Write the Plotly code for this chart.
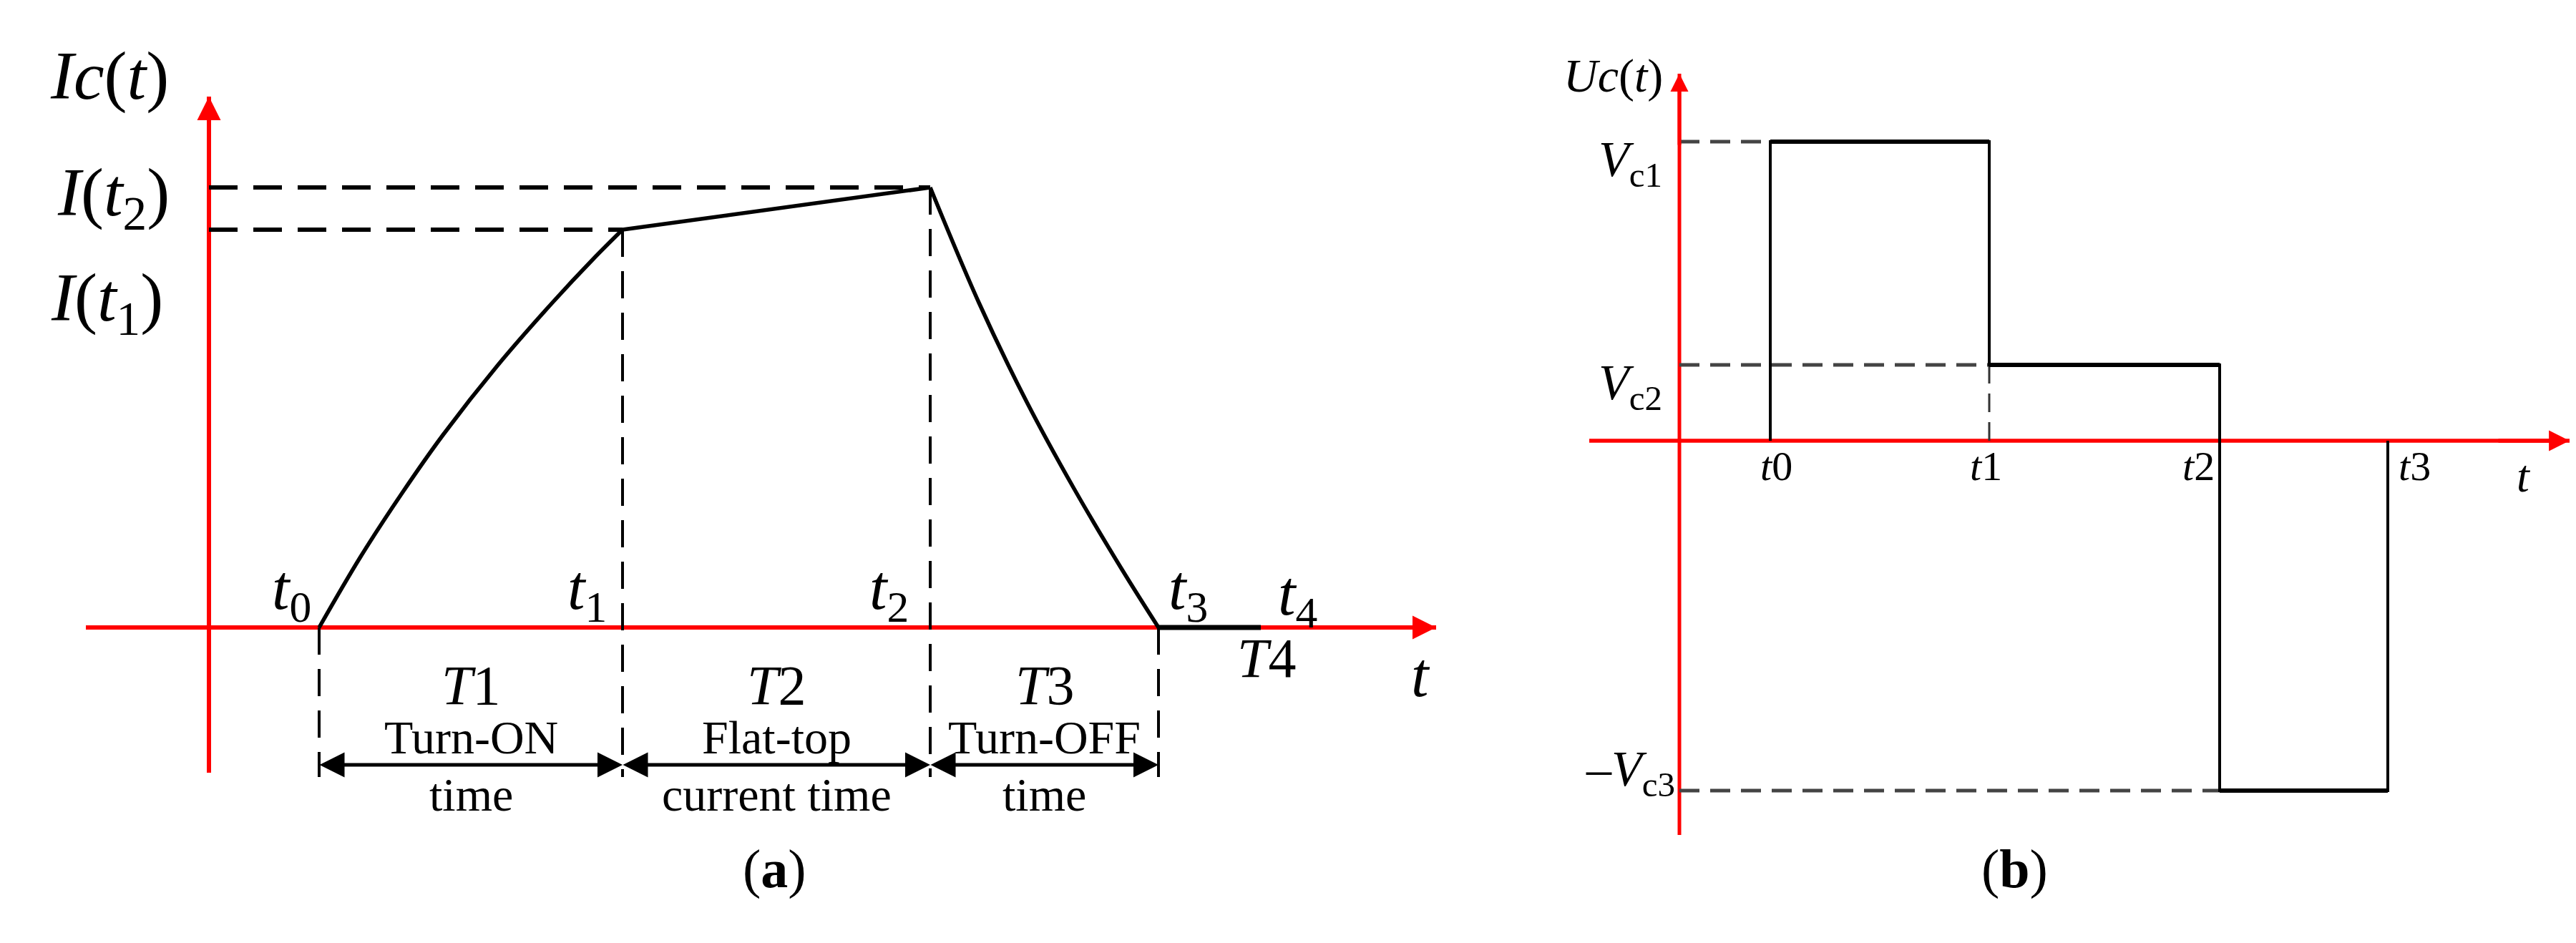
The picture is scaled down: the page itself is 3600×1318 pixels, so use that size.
import plotly.graph_objects as go

# ---------------- data ----------------
# Panel (a): coil current waveform (arbitrary units)
a_times = [1.54, 5.78, 10.08, 13.27, 14.70]          # t0 .. t4
a_time_names = ["0", "1", "2", "3", "4"]
I_levels = [5.56, 6.15]                              # I(t1), I(t2)
rise_t = [1.54, 2.12, 2.70, 3.27, 4.04, 4.80, 5.38, 5.78]
rise_I = [0.00, 0.99, 1.88, 2.69, 3.67, 4.54, 5.16, 5.56]
fall_t = [10.08, 10.76, 11.43, 12.09, 12.76, 13.27]
fall_I = [6.15, 4.54, 3.15, 1.94, 0.81, 0.00]
interval_names = ["1", "2", "3"]
interval_desc = [["Turn-ON", "time"], ["Flat-top", "current time"], ["Turn-OFF", "time"]]
a_x_extent = [-1.72, 17.15]
a_y_extent = [-2.03, 7.42]

# Panel (b): coil voltage waveform (arbitrary units)
b_times = [1.27, 4.33, 7.55, 9.90]                   # t0 .. t3
b_time_names = ["0", "1", "2", "3"]
V_levels = [4.18, 1.06, -4.89]                       # Vc1, Vc2, -Vc3
V_names = ["<i>V</i><sub>c1</sub>", "<i>V</i><sub>c2</sub>", "\u2013<i>V</i><sub>c3</sub>"]
b_x_extent = [-1.26, 12.44]
b_y_extent = [-5.51, 5.13]

# ---------------- figure ----------------
W, H = 3600, 1318
FONT = "Liberation Serif"
RED = "#ff0000"

fig = go.Figure()


def line(xs, ys, axis, width, dash="solid", color="black", shape="linear", smoothing=0.5):
    xa, ya = ("x", "y") if axis == "a" else ("x2", "y2")
    fig.add_trace(go.Scatter(x=xs, y=ys, xaxis=xa, yaxis=ya, mode="lines",
                             line=dict(color=color, width=width, dash=dash, shape=shape,
                                       smoothing=smoothing),
                             cliponaxis=False, hoverinfo="skip", showlegend=False))


t0, t1, t2, t3, t4 = a_times
I1, I2 = I_levels
bottom_a = -2.09
arrow_y = -1.92

# red axes (drawn first, under everything)
line(a_x_extent, [0, 0], "a", 6, color=RED)
line([0, 0], a_y_extent, "a", 6, color=RED)
line(b_x_extent, [0, 0], "b", 5.5, color=RED)
line([0, 0], b_y_extent, "b", 5, color=RED)

# dashed guides, panel a
line([0, t2], [I2, I2], "a", 6, "40px,22px")
line([0, t1], [I1, I1], "a", 6, "40px,22px")
line([t0, t0], [0, bottom_a], "a", 4, "38px,20px")
line([t1, t1], [I1, bottom_a], "a", 4, "38px,20px")
line([t2, t2], [I2, bottom_a], "a", 4, "38px,20px")
line([t3, t3], [0, bottom_a], "a", 4, "38px,20px")

# current waveform
line(rise_t, rise_I, "a", 5.5, shape="spline", smoothing=1.0)
line([t1, t2], [I1, I2], "a", 5.5)
line(fall_t, fall_I, "a", 5.5, shape="spline", smoothing=1.0)
line([t3, t4], [0, 0], "a", 7)

# panel b
bt0, bt1, bt2, bt3 = b_times
V1, V2, V3 = V_levels
line([0, bt0], [V1, V1], "b", 5, "28px,15px", color="#444444")
line([0, bt1], [V2, V2], "b", 5, "28px,15px", color="#444444")
line([0, bt2], [V3, V3], "b", 5, "28px,15px", color="#444444")
line([bt1, bt1], [V2, 0], "b", 3, "26px,14px", color="#333333")
line([bt0, bt0, bt1, bt1, bt2, bt2, bt3, bt3],
     [0, V1, V1, V2, V2, V3, V3, 0], "b", 4)
for xa_, xb_, v in [(bt0, bt1, V1), (bt1, bt2, V2), (bt2, bt3, V3)]:
    line([xa_, xb_], [v, v], "b", 6)

ann = []


def text(x, y, s, size, axis="a", xanchor="center", yanchor="middle", xshift=0):
    xr, yr = ("x", "y") if axis == "a" else ("x2", "y2")
    ann.append(dict(x=x, y=y, xref=xr, yref=yr, text=s, showarrow=False,
                    xanchor=xanchor, yanchor=yanchor, xshift=xshift,
                    font=dict(family=FONT, size=size, color="black")))


def arrow(x, y, ax, ay, axis, color, width, size, both=False):
    xr, yr = ("x", "y") if axis == "a" else ("x2", "y2")
    d = dict(x=x, y=y, ax=ax, ay=ay, xref=xr, yref=yr, axref=xr, ayref=yr,
             text="", showarrow=True, arrowhead=2, arrowsize=size, arrowwidth=width,
             arrowcolor=color, font=dict(size=1), borderpad=0, standoff=0, startstandoff=0)
    if both:
        d.update(arrowside="end+start", startarrowhead=2, startarrowsize=size)
    ann.append(d)


# axis arrowheads
arrow(a_x_extent[1], 0, a_x_extent[1] - 1.2, 0, "a", RED, 6, 1.1)
arrow(0, a_y_extent[1], 0, a_y_extent[1] - 1.0, "a", RED, 6, 1.1)
arrow(b_x_extent[1], 0, b_x_extent[1] - 1.0, 0, "b", RED, 5.5, 1.05)
arrow(0, b_y_extent[1], 0, b_y_extent[1] - 1.0, "b", RED, 5, 1.0)

# double arrows for intervals
for a_, b_ in [(t0, t1), (t1, t2), (t2, t3)]:
    arrow(b_, arrow_y, a_, arrow_y, "a", "black", 5, 1.4, both=True)

# panel a labels
text(-1.39, 7.72, "<i>Ic</i>(<i>t</i>)", 96)
text(-1.34, 6.02, "<i>I</i>(<i>t</i><sub>2</sub>)", 96)
text(-1.43, 4.55, "<i>I</i>(<i>t</i><sub>1</sub>)", 96)
t_shift = [-9, -20, -28, 12, 22]
for tv, nm, sh in zip(a_times, a_time_names, t_shift):
    anchor = "right" if sh < 0 else "left"
    yv = 0.50 if nm != "4" else 0.42
    text(tv, yv, "<i>t</i><sub>%s</sub>" % nm, 88, xanchor=anchor, xshift=sh)
for (a_, b_), nm, desc in zip([(t0, t1), (t1, t2), (t2, t3)], interval_names, interval_desc):
    mid = (a_ + b_) / 2
    text(mid, -0.80, "<i>T</i>%s" % nm, 78)
    text(mid, -1.53, desc[0], 66)
    text(mid, -2.33, desc[1], 66)
text(t4 + 0.08, -0.42, "<i>T</i>4", 78)
text(16.93, -0.66, "<i>t</i>", 88)

# panel b labels
text(-0.93, 5.10, "<i>Uc</i>(<i>t</i>)", 66, axis="b")
for v, nm in zip(V_levels, V_names):
    yv = v - 0.30 if v > 0 else v + 0.25
    text(-0.69, yv, nm, 70, axis="b")
for tv, nm, sh in zip(b_times, b_time_names, [8, -5, -30, 37]):
    text(tv, -0.35, "<i>t</i>%s" % nm, 58, axis="b", xshift=sh)
text(11.80, -0.49, "<i>t</i>", 64, axis="b")

# panel captions
for xp, lab in [(0.2856, "a"), (0.7933, "b")]:
    ann.append(dict(x=xp, y=0.0508, xref="paper", yref="paper", showarrow=False,
                    text="(<b>%s</b>)" % lab, font=dict(family=FONT, size=76, color="black")))

ax_common = dict(showgrid=False, showticklabels=False, ticks="", showline=False,
                 zeroline=False, fixedrange=True)

# panel a: 1 unit = 100 px, origin at (284, 869); panel b: origin at (2339, 608)
fig.update_layout(
    width=W, height=H, margin=dict(l=0, r=0, t=0, b=0),
    paper_bgcolor="white", plot_bgcolor="white", showlegend=False,
    xaxis=dict(domain=[0, 0.58], range=[-2.84, 0.58 * W / 100 - 2.84], anchor="y", **ax_common),
    yaxis=dict(domain=[0, 1], range=[(869 - H) / 100, 8.69], anchor="x", **ax_common),
    xaxis2=dict(domain=[0.6, 1], range=[(0.6 * W - 2339) / 100, (W - 2339) / 100], anchor="y2",
                **ax_common),
    yaxis2=dict(domain=[0, 1], range=[(608 - H) / 100, 6.08], anchor="x2", **ax_common),
    annotations=ann,
)

fig.write_html("out.html")
